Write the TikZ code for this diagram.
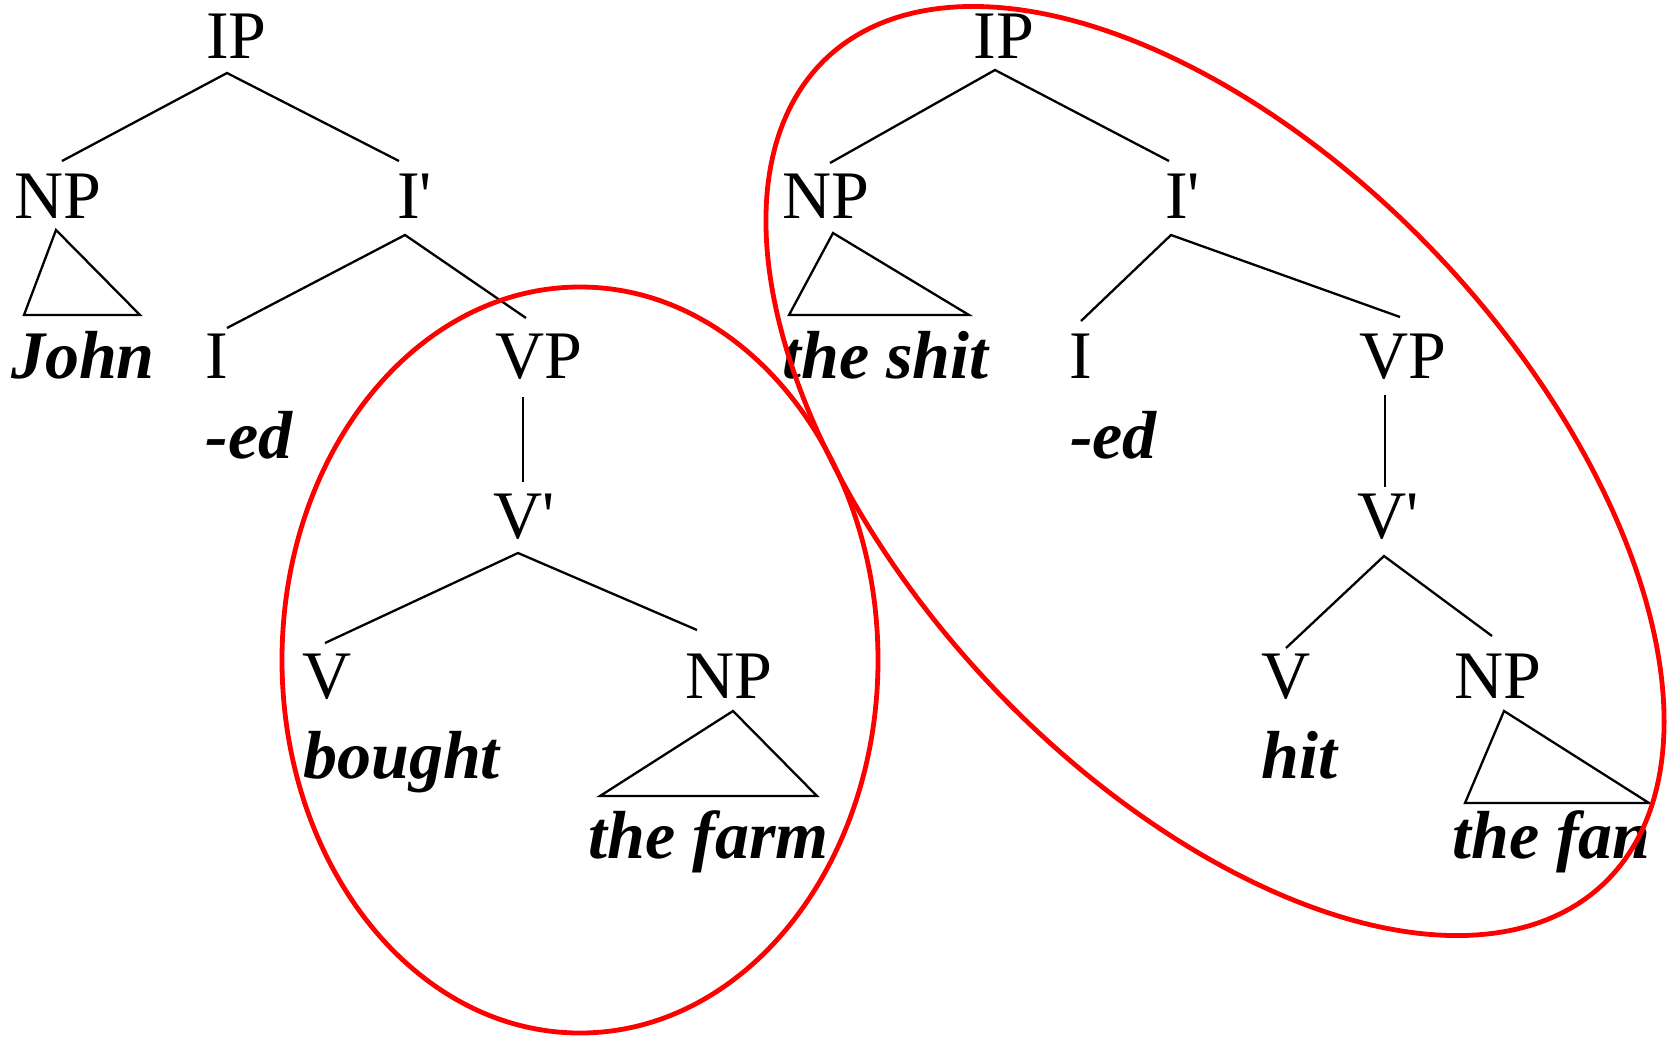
\documentclass[tikz,border=0pt]{standalone}
\usepackage{fontspec}
\setmainfont{Liberation Serif}
\newcommand\sq{\XeTeXglyph\numexpr\XeTeXcharglyph"27\relax}
\begin{document}
\begin{tikzpicture}[x=1pt,y=-1pt,
  lab/.style={anchor=base,inner sep=0pt,font=\fontsize{68}{80}\selectfont},
  word/.style={lab,font=\fontsize{68}{80}\selectfont\bfseries\itshape},
  edge/.style={line width=2.3pt,line join=miter},
  ring/.style={draw=red,line width=4.8pt}]
\useasboundingbox (0,0) rectangle (1669,1039);
% ---------- left tree ----------
\node[lab] (ipL) at (236.5,58) {IP};
\node[lab] (npL) at (57.5,218) {NP};
\node[lab] (ibL) at (414.5,218) {I\sq};
\node[word] (john) at (83,378) {John};
\node[lab] (iL) at (217,378) {I};
\node[lab] (vpL) at (538.5,378) {VP};
\node[word] (edL) at (249,458) {-ed};
\node[lab] (vbL) at (524.5,538) {V\sq};
\node[lab] (vL) at (327,698) {V};
\node[lab] (np2L) at (729,698) {NP};
\node[word] (bought) at (401.5,778) {bought};
\node[word] (farm) at (708.5,858) {the farm};
\coordinate (ipLb) at (227,73);
\coordinate (npLt) at (62,161);
\coordinate (ibLt) at (399,161);
\coordinate (ibLb) at (405,235);
\coordinate (iLt) at (227,328);
\coordinate (vpLt) at (526,318);
\coordinate (vpLb) at (523,397);
\coordinate (vbLt) at (523,482);
\coordinate (vbLb) at (518,553);
\coordinate (vLt) at (325,643);
\coordinate (np2Lt) at (697,630);
\coordinate (t1a) at (56,230);
\coordinate (t1b) at (24,315);
\coordinate (t1c) at (140,315);
\coordinate (t2a) at (733,711);
\coordinate (t2b) at (600,796);
\coordinate (t2c) at (817,796);
\draw[edge] (npLt) -- (ipLb) -- (ibLt);
\draw[edge] (iLt) -- (ibLb) -- (vpLt);
\draw[edge] (vpLb) -- (vbLt);
\draw[edge] (vLt) -- (vbLb) -- (np2Lt);
\draw[edge] (t1a) -- (t1b) -- (t1c) -- cycle;
\draw[edge] (t2a) -- (t2b) -- (t2c) -- cycle;
% ---------- right tree ----------
\node[lab] (ipR) at (1004,58) {IP};
\node[lab] (npR) at (825.5,218) {NP};
\node[lab] (ibR) at (1182.5,218) {I\sq};
\node[word] (shit) at (885.5,378) {the shit};
\node[lab] (iR) at (1080.5,378) {I};
\node[lab] (vpR) at (1402.5,378) {VP};
\node[word] (edR) at (1113.5,458) {-ed};
\node[lab] (vbR) at (1388.5,538) {V\sq};
\node[lab] (vR) at (1286,698) {V};
\node[lab] (np2R) at (1498,698) {NP};
\node[word] (hit) at (1299.5,778) {hit};
\node[word] (fan) at (1551.5,858) {the fan};
\coordinate (ipRb) at (995,70);
\coordinate (npRt) at (830,163);
\coordinate (ibRt) at (1169,161);
\coordinate (ibRb) at (1171,235);
\coordinate (iRt) at (1081,321);
\coordinate (vpRt) at (1400,317);
\coordinate (vpRb) at (1385,395);
\coordinate (vbRt) at (1385,487);
\coordinate (vbRb) at (1384,556);
\coordinate (vRt) at (1286,648);
\coordinate (np2Rt) at (1492,636);
\coordinate (t3a) at (833,233);
\coordinate (t3b) at (789,315);
\coordinate (t3c) at (969,315);
\coordinate (t4a) at (1504,711);
\coordinate (t4b) at (1465,803);
\coordinate (t4c) at (1649,803);
\draw[edge] (npRt) -- (ipRb) -- (ibRt);
\draw[edge] (iRt) -- (ibRb) -- (vpRt);
\draw[edge] (vpRb) -- (vbRt);
\draw[edge] (vRt) -- (vbRb) -- (np2Rt);
\draw[edge] (t3a) -- (t3b) -- (t3c) -- cycle;
\draw[edge] (t4a) -- (t4b) -- (t4c) -- cycle;
% ---------- red rings ----------
\draw[ring] (580,660) ellipse [x radius=298, y radius=373];
\draw[ring] plot[domain=0:360,samples=240,variable=\t]
  ({1215+388.1*cos(\t)-226.0*sin(\t)},{471+413.3*cos(\t)+212.2*sin(\t)}) -- cycle;
\end{tikzpicture}
\end{document}
